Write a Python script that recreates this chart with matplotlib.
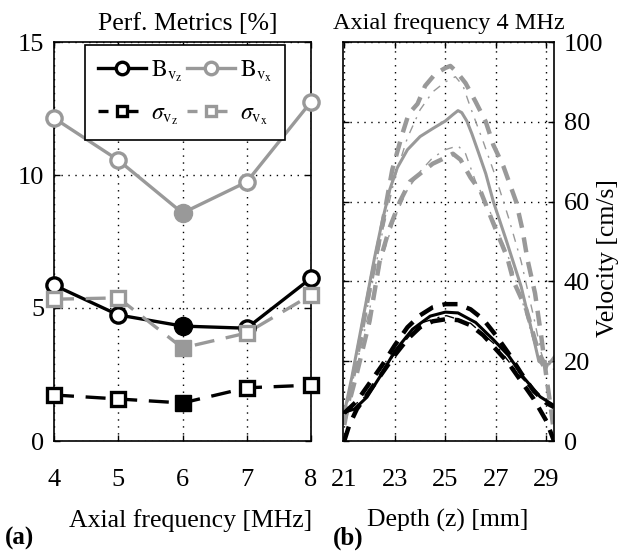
import matplotlib
matplotlib.use("Agg")
import matplotlib.pyplot as plt
from matplotlib.lines import Line2D

plt.rcParams['font.family'] = ['Liberation Serif', 'DejaVu Serif']
plt.rcParams['mathtext.fontset'] = 'stix'

# ---- panel (a): performance metrics vs axial frequency ----
freq = [4, 5, 6, 7, 8]
B_vz = [5.86, 4.74, 4.32, 4.24, 6.12]
B_vx = [12.14, 10.56, 8.57, 9.74, 12.75]
sigma_vz = [1.73, 1.58, 1.43, 2.0, 2.1]
sigma_vx = [5.33, 5.38, 3.5, 4.06, 5.49]
best_freq = 6

# ---- panel (b): velocity profiles at 4 MHz ----
# axial component (black)
z_bz = [21.0, 21.4, 21.9, 22.4, 23.0, 23.7, 24.4, 25.0, 25.5, 26.2, 26.9, 27.5, 28.1, 28.75, 29.3]
v_bz = [7.2, 8.0, 11.0, 16.0, 22.5, 28.0, 31.3, 32.3, 32.1, 29.7, 25.4, 21.4, 15.9, 11.1, 8.9]
z_bz_hi = [21.0, 21.5, 22.0, 22.5, 23.0, 23.5, 24.0, 24.5, 25.0, 25.5, 26.0, 26.5, 27.0, 27.5, 28.0, 28.5, 29.0, 29.3]
v_bz_hi = [7.0, 10.0, 14.5, 19.0, 24.0, 28.5, 31.5, 33.5, 34.3, 34.3, 33.0, 30.5, 26.5, 22.0, 17.0, 12.5, 9.5, 8.5]
z_bz_lo = [21.0, 21.2, 21.5, 22.0, 22.5, 23.0, 23.5, 24.0, 24.5, 25.0, 25.5, 26.0, 26.5, 27.0, 27.5, 28.0, 28.5, 29.0, 29.3]
v_bz_lo = [0.0, 4.0, 8.0, 12.5, 17.0, 21.5, 25.5, 28.5, 30.0, 30.5, 30.3, 29.0, 26.5, 23.0, 19.5, 15.0, 10.5, 5.0, 0.0]
z_bz_ref = [21.0, 22.0, 23.0, 24.0, 25.0, 26.0, 27.0, 28.0, 29.0, 29.3]
v_bz_ref = [7.0, 12.0, 22.0, 29.5, 31.5, 29.5, 24.0, 16.0, 9.5, 9.0]

# lateral component (gray)
z_bx = [21.0, 21.3, 21.6, 21.9, 22.2, 22.5, 22.8, 23.1, 23.5, 24.0, 24.5, 25.0, 25.3, 25.5, 25.65,
        25.85, 26.05, 26.3, 26.6, 26.9, 27.4, 28.0, 28.5, 28.7, 28.9, 29.1, 29.3]
v_bx = [7.0, 16.0, 26.0, 36.0, 46.0, 55.0, 63.0, 68.5, 73.0, 76.3, 78.3, 80.2, 81.8, 82.8, 82.3,
        80.2, 77.0, 72.5, 67.0, 60.0, 50.5, 38.7, 25.5, 20.0, 19.0, 19.3, 21.0]
z_bx_hi = [21.0, 21.5, 22.0, 22.5, 22.9, 23.3, 23.55, 23.9, 24.2, 24.6, 25.0, 25.2, 25.45, 25.8,
           26.2, 26.6, 26.9, 27.3, 27.8, 28.05, 28.25, 28.55, 28.8, 29.0, 29.2, 29.3]
v_bx_hi = [4.0, 21.0, 38.0, 54.0, 68.0, 77.0, 82.0, 84.5, 89.0, 92.0, 93.5, 94.0, 92.5, 89.7,
           85.0, 80.0, 74.2, 68.8, 60.0, 53.0, 45.5, 37.0, 26.0, 16.0, 7.0, 2.0]
z_bx_lo = [21.0, 21.5, 22.0, 22.4, 22.8, 23.2, 23.6, 24.0, 24.5, 25.0, 25.3, 25.6, 26.0, 26.4,
           26.9, 27.45, 27.7, 28.2, 28.7, 29.0, 29.2]
v_bx_lo = [5.0, 17.0, 30.0, 45.0, 53.5, 60.0, 65.0, 67.0, 69.5, 71.0, 72.0, 70.5, 66.0, 62.5,
           54.5, 46.0, 40.0, 33.0, 22.0, 18.5, 18.0]
z_bx_dhi = [21.0, 22.0, 22.5, 23.0, 23.5, 24.0, 24.5, 25.0, 25.4, 25.7, 26.0, 26.5, 27.0, 27.5,
            28.0, 28.5, 28.8, 29.0, 29.3]
v_bx_dhi = [6.0, 36.0, 52.0, 66.0, 76.0, 83.0, 87.5, 90.0, 91.3, 89.0, 83.5, 75.0, 66.0, 56.0,
            45.0, 31.0, 22.0, 18.0, 18.0]
z_bx_dlo = [21.0, 22.0, 22.5, 23.0, 23.5, 24.0, 24.5, 25.0, 25.5, 25.8, 26.2, 26.6, 27.0, 27.5,
            28.0, 28.5, 28.8, 29.0, 29.3]
v_bx_dlo = [6.0, 33.0, 46.0, 56.0, 63.0, 67.5, 71.0, 73.0, 74.0, 72.0, 65.0, 60.0, 54.0, 46.0,
            36.0, 25.0, 19.0, 17.0, 18.0]

GRAY = '#999999'
TICK_FS = 19
LABEL_FS = 18.5

fig = plt.figure(figsize=(6.21, 5.53), dpi=100)
ax1 = fig.add_axes([54 / 621, 112 / 553, 257 / 621, 399 / 553])
ax2 = fig.add_axes([343 / 621, 112 / 553, 211 / 621, 399 / 553])


def style_axes(ax):
    ax.tick_params(direction='in', length=4, width=1, labelsize=TICK_FS,
                   top=True, right=True)
    ax.tick_params(axis='x', pad=20)
    ax.tick_params(axis='y', pad=7)
    for sp in ax.spines.values():
        sp.set_linewidth(1.2)
    ax.grid(True, linestyle=(0, (1, 4)), color='black', linewidth=1.0)
    ax.set_axisbelow(True)


# ---- panel (a) ----
style_axes(ax1)
ax1.set_xlim(4, 8)
ax1.set_ylim(0, 15)
ax1.set_xticks(freq)
ax1.set_yticks([0, 5, 10, 15])

series = [
    (B_vz, 'black', 'o', '-', r'$\mathrm{B}_{\mathrm{v}_{\mathrm{z}}}$'),
    (B_vx, GRAY, 'o', '-', r'$\mathrm{B}_{\mathrm{v}_{\mathrm{x}}}$'),
    (sigma_vz, 'black', 's', '--', r'$\sigma_{\mathrm{v}_{\mathrm{z}}}$'),
    (sigma_vx, GRAY, 's', '--', r'$\sigma_{\mathrm{v}_{\mathrm{x}}}$'),
]
handles = []
ib = freq.index(best_freq)
for vals, col, mk, ls, lab in series:
    kw = dict(color=col, linewidth=2.4, clip_on=False)
    if ls == '--':
        kw['dashes'] = (6, 3.5)
    ax1.plot(freq, vals, **kw, zorder=3)
    open_x = [f for i, f in enumerate(freq) if i != ib]
    open_y = [v for i, v in enumerate(vals) if i != ib]
    ax1.plot(open_x, open_y, linestyle='none', marker=mk, markersize=11 if mk == 'o' else 10,
             markerfacecolor='white', markeredgecolor=col, markeredgewidth=2.4,
             clip_on=False, zorder=4)
    ax1.plot([freq[ib]], [vals[ib]], linestyle='none', marker=mk,
             markersize=13 if mk == 'o' else 12, color=col, clip_on=False, zorder=4)
    h = Line2D([], [], color=col, linewidth=2.4, marker=mk, markersize=9 if mk == 'o' else 7,
               markerfacecolor='white', markeredgecolor=col, markeredgewidth=2.4)
    if ls == '--':
        h.set_dashes((3, 6))
    handles.append((h, lab))

leg = ax1.legend([handles[0][0], handles[2][0], handles[1][0], handles[3][0]],
                 [handles[0][1], handles[2][1], handles[1][1], handles[3][1]],
                 ncol=2, loc='upper center', bbox_to_anchor=(0.51, 0.992),
                 fontsize=17, frameon=True, fancybox=False, framealpha=1,
                 edgecolor='black', handlelength=2.05, handletextpad=0.2,
                 columnspacing=0.2, borderpad=0.55, labelspacing=0.8,
                 borderaxespad=0.0)
leg.get_frame().set_linewidth(1.2)

ax1.set_title('Perf. Metrics [%]', fontsize=LABEL_FS, pad=9, x=0.52)
xl1 = ax1.set_xlabel('Axial frequency [MHz]', fontsize=LABEL_FS)
ax1.xaxis.set_label_coords(0.53, -0.20)
xl1.set_verticalalignment('center')

# ---- panel (b) ----
style_axes(ax2)
ax2.set_xlim(20.95, 29.3)
ax2.set_ylim(0, 100)
ax2.set_xticks([21, 23, 25, 27, 29])
ax2.set_yticks([0, 20, 40, 60, 80, 100])
ax2.tick_params(labelleft=False, labelright=True)

thick = dict(linewidth=3.2, dashes=(3.4, 2.2))
thin = dict(linewidth=1.0, dashes=(6, 5, 1.5, 5))

ax2.plot(z_bx_dhi, v_bx_dhi, color=GRAY, **thin)
ax2.plot(z_bx_dlo, v_bx_dlo, color=GRAY, **thin)
ax2.plot(z_bx_hi, v_bx_hi, color=GRAY, **thick)
ax2.plot(z_bx_lo, v_bx_lo, color=GRAY, **thick)
ax2.plot(z_bx, v_bx, color=GRAY, linewidth=2.2)

ax2.plot(z_bz_ref, v_bz_ref, color='black', **thin)
ax2.plot(z_bz_hi, v_bz_hi, color='black', **thick)
ax2.plot(z_bz_lo, v_bz_lo, color='black', **thick)
ax2.plot(z_bz, v_bz, color='black', linewidth=2.2)

ax2.set_title('Axial frequency 4 MHz', fontsize=17.5, pad=9)
xl2 = ax2.set_xlabel('Depth (z) [mm]', fontsize=LABEL_FS)
ax2.xaxis.set_label_coords(0.495, -0.20)
xl2.set_verticalalignment('center')

yl2 = ax2.set_ylabel('Velocity [cm/s]', fontsize=LABEL_FS)
ax2.yaxis.set_label_position('right')
ax2.yaxis.set_label_coords(1.256, 0.459)
yl2.set_verticalalignment('center')
yl2.set_horizontalalignment('center')

fig.text(5 / 621, 1 - 538 / 553, '(a)', fontsize=18, fontweight='bold', va='center', ha='left')
fig.text(333 / 621, 1 - 538 / 553, '(b)', fontsize=18, fontweight='bold', va='center', ha='left')

fig.savefig('out.png', dpi=100)
